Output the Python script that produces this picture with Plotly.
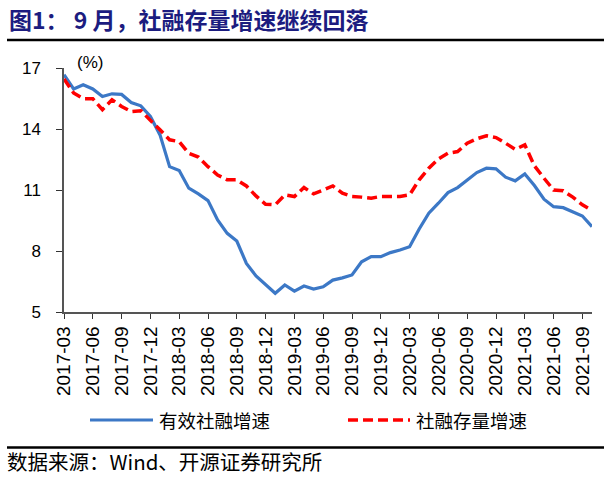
import plotly.graph_objects as go
import pandas as pd

# Categories: monthly, 2017-03 .. 2021-10 (56 points)
months = [d.strftime("%Y-%m") for d in pd.date_range("2017-03-01", periods=56, freq="MS")]
tick_labels = months[0:55:3]  # 2017-03 ... 2021-09

effective_tsf = [
    16.67, 15.97, 16.18, 15.97, 15.60, 15.73, 15.70, 15.30, 15.14, 14.62,
    13.71, 12.15, 11.96, 11.09, 10.81, 10.48, 9.53, 8.87, 8.49, 7.39,
    6.77, 6.36, 5.92, 6.33, 6.03, 6.28, 6.13, 6.24, 6.57, 6.68,
    6.82, 7.47, 7.72, 7.72, 7.92, 8.05, 8.21, 9.08, 9.86, 10.35,
    10.87, 11.12, 11.50, 11.86, 12.07, 12.04, 11.63, 11.45, 11.79, 11.22,
    10.55, 10.18, 10.13, 9.94, 9.72, 9.20,
]
tsf_stock = [
    16.46, 15.77, 15.49, 15.49, 14.95, 15.44, 15.11, 14.86, 14.90, 14.45,
    13.96, 13.47, 13.38, 12.81, 12.62, 12.15, 11.74, 11.50, 11.50, 11.20,
    10.71, 10.30, 10.27, 10.76, 10.68, 11.12, 10.81, 11.00, 11.20, 10.84,
    10.68, 10.65, 10.60, 10.68, 10.68, 10.68, 10.76, 11.50, 12.07, 12.53,
    12.81, 12.89, 13.30, 13.52, 13.67, 13.58, 13.30, 13.00, 13.22, 12.19,
    11.58, 11.00, 10.96, 10.65, 10.27, 9.99,
]
y_ticks = [5, 8, 11, 14, 17]
series_names = ["有效社融增速", "社融存量增速"]
title_text = "图1： 9 月，社融存量增速继续回落"
source_text = "数据来源：Wind、开源证券研究所"

BLUE = "#3C78C6"
RED = "#FF0000"
CJK = "Noto Sans CJK SC"
LAT = "Liberation Sans, Arial"

fig = go.Figure()
fig.add_trace(go.Scatter(x=months, y=effective_tsf, mode="lines", name=series_names[0],
                         line=dict(color=BLUE, width=3.2), showlegend=False))
fig.add_trace(go.Scatter(x=months, y=tsf_stock, mode="lines", name=series_names[1],
                         line=dict(color=RED, width=3.5, dash="10px,5px"), showlegend=False))

W, H = 610, 477
fig.update_layout(
    width=W, height=H,
    margin=dict(l=64, r=18, t=68, b=165),
    plot_bgcolor="white", paper_bgcolor="white",
    xaxis=dict(type="category", range=[0, 55], tickmode="array", tickvals=tick_labels,
               ticktext=tick_labels, tickangle=-90, ticks="outside", ticklen=5,
               tickcolor="#333333", tickwidth=1.3,
               showline=True, linecolor="#555555", linewidth=1.5, showgrid=False,
               tickfont=dict(family=LAT, size=19, color="black"), zeroline=False),
    yaxis=dict(range=[5, 17], tickvals=y_ticks, ticks="outside", ticklen=6,
               tickcolor="#333333", tickwidth=1.3,
               showline=True, linecolor="#555555", linewidth=1.5, showgrid=False,
               tickfont=dict(family=LAT, size=17, color="black"), zeroline=False,
               ticklabelstandoff=12),
)

def px_x(x):
    return (x - 64) / 528
def px_y(y):
    return (312 - y) / 244

# title and rules
fig.add_annotation(text=title_text, xref="paper", yref="paper", x=px_x(7), y=px_y(19),
                   xanchor="left", yanchor="middle", showarrow=False,
                   font=dict(family=CJK, size=23, color="#1C1C80", weight="bold"))
fig.add_shape(type="line", xref="paper", yref="paper", x0=px_x(7), x1=px_x(604),
              y0=px_y(40), y1=px_y(40), line=dict(color="black", width=2.5))
fig.add_shape(type="line", xref="paper", yref="paper", x0=px_x(7), x1=px_x(604),
              y0=px_y(447.5), y1=px_y(447.5), line=dict(color="black", width=2.5))

# (%) unit label
fig.add_annotation(text="(%)", xref="paper", yref="paper", x=px_x(75), y=px_y(62),
                   xanchor="left", yanchor="middle", showarrow=False,
                   font=dict(family=LAT, size=17, color="black"))

# legend (manual)
fig.add_shape(type="line", xref="paper", yref="paper", x0=px_x(90), x1=px_x(153),
              y0=px_y(420), y1=px_y(420), line=dict(color=BLUE, width=3.2))
fig.add_annotation(text=series_names[0], xref="paper", yref="paper", x=px_x(157), y=px_y(420),
                   xanchor="left", yanchor="middle", showarrow=False,
                   font=dict(family=CJK, size=18.5, color="black"))
fig.add_shape(type="line", xref="paper", yref="paper", x0=px_x(348), x1=px_x(410),
              y0=px_y(420), y1=px_y(420), line=dict(color=RED, width=3.5, dash="10px,5px"))
fig.add_annotation(text=series_names[1], xref="paper", yref="paper", x=px_x(414), y=px_y(420),
                   xanchor="left", yanchor="middle", showarrow=False,
                   font=dict(family=CJK, size=18.5, color="black"))

# source
fig.add_annotation(text=source_text, xref="paper", yref="paper", x=px_x(5), y=px_y(461),
                   xanchor="left", yanchor="middle", showarrow=False,
                   font=dict(family=CJK, size=20.5, color="black"))

fig.write_html("out.html", config={"displayModeBar": False},
               post_script="document.body.style.margin='0';")
